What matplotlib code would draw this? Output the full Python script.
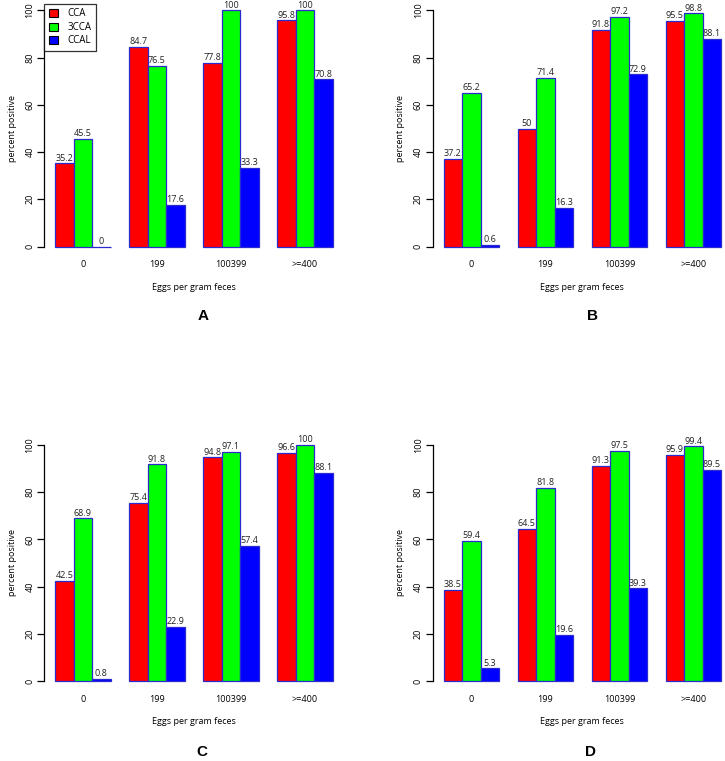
import numpy as np
import matplotlib.pyplot as plt

plt.rcParams['font.family'] = ['Open Sans', 'DejaVu Sans']

groups = ['0', '199', '100399', '>=400']
series = ['CCA', '3CCA', 'CCAL']
colors = ['#ff0000', '#00ff00', '#0000ff']

cca_a = [35.2, 84.7, 77.8, 95.8]
tcca_a = [45.5, 76.5, 100, 100]
ccal_a = [0, 17.6, 33.3, 70.8]

cca_b = [37.2, 50, 91.8, 95.5]
tcca_b = [65.2, 71.4, 97.2, 98.8]
ccal_b = [0.6, 16.3, 72.9, 88.1]

cca_c = [42.5, 75.4, 94.8, 96.6]
tcca_c = [68.9, 91.8, 97.1, 100]
ccal_c = [0.8, 22.9, 57.4, 88.1]

cca_d = [38.5, 64.5, 91.3, 95.9]
tcca_d = [59.4, 81.8, 97.5, 99.4]
ccal_d = [5.3, 19.6, 39.3, 89.5]

panels = [
    ('A', [cca_a, tcca_a, ccal_a]),
    ('B', [cca_b, tcca_b, ccal_b]),
    ('C', [cca_c, tcca_c, ccal_c]),
    ('D', [cca_d, tcca_d, ccal_d]),
]

W, H = 725, 761
fig = plt.figure(figsize=(W / 100, H / 100), dpi=100)

# pixel geometry of each panel: left edge of axes (x=0.4) and y of 0
unit_x = 18.5
unit_y = 2.36
geo = {'A': (44, 246.5), 'B': (432.5, 246.5), 'C': (44, 681), 'D': (432.5, 681)}
letter_pos = {'A': (203, 316), 'B': (592, 316), 'C': (202, 752), 'D': (590, 752)}

for name, data in panels:
    x0, y0 = geo[name]
    width_px = 16.2 * unit_x
    bottom_px = y0 + 4 * unit_y
    height_px = 108 * unit_y
    ax = fig.add_axes([x0 / W, (H - bottom_px) / H, width_px / W, height_px / H])
    ax.set_xlim(0.4, 16.6)
    ax.set_ylim(-4, 104)

    n = len(groups)
    for s, vals in enumerate(data):
        xs = 1 + 4 * np.arange(n) + s
        ax.bar(xs, vals, width=1, align='edge', color=colors[s],
               edgecolor='#2a2ad0', linewidth=0.9, label=series[s])
        for x, v in zip(xs, vals):
            ax.text(x + 0.5, v + 0.3, '%g' % v, ha='center', va='bottom',
                    fontsize=6.5, color='#222222')

    for sp in ['top', 'right', 'bottom']:
        ax.spines[sp].set_visible(False)
    ax.spines['left'].set_bounds(0, 100)
    ax.spines['left'].set_linewidth(0.9)
    ax.set_yticks([0, 20, 40, 60, 80, 100])
    ax.tick_params(axis='y', length=5, width=0.9, labelsize=6.5, pad=2)
    for lbl in ax.get_yticklabels():
        lbl.set_rotation(90)
        lbl.set_va('center')
    ax.set_xticks(2.5 + 4 * np.arange(n))
    ax.set_xticklabels(groups)
    ax.tick_params(axis='x', length=0, labelsize=6.5, pad=3)
    ax.set_xlabel('Eggs per gram feces', fontsize=6.5, labelpad=10)
    ax.set_ylabel('percent positive', fontsize=6.5, labelpad=6)

    lx, ly = letter_pos[name]
    fig.text(lx / W, 1 - ly / H, name, ha='center', va='center',
             fontsize=11, fontweight='bold', family='Liberation Sans')

    if name == 'A':
        leg = ax.legend(loc='upper left', bbox_to_anchor=(0.0, 0.99), fontsize=7,
                        frameon=True, fancybox=False, handlelength=0.9,
                        handleheight=0.9, borderpad=0.5, labelspacing=0.25,
                        handletextpad=1.0, borderaxespad=0.0)
        leg.get_frame().set_edgecolor('black')
        leg.get_frame().set_linewidth(0.9)
        for h in leg.legend_handles:
            h.set_edgecolor('black')
            h.set_linewidth(0.8)

fig.savefig('out.png', dpi=100)
